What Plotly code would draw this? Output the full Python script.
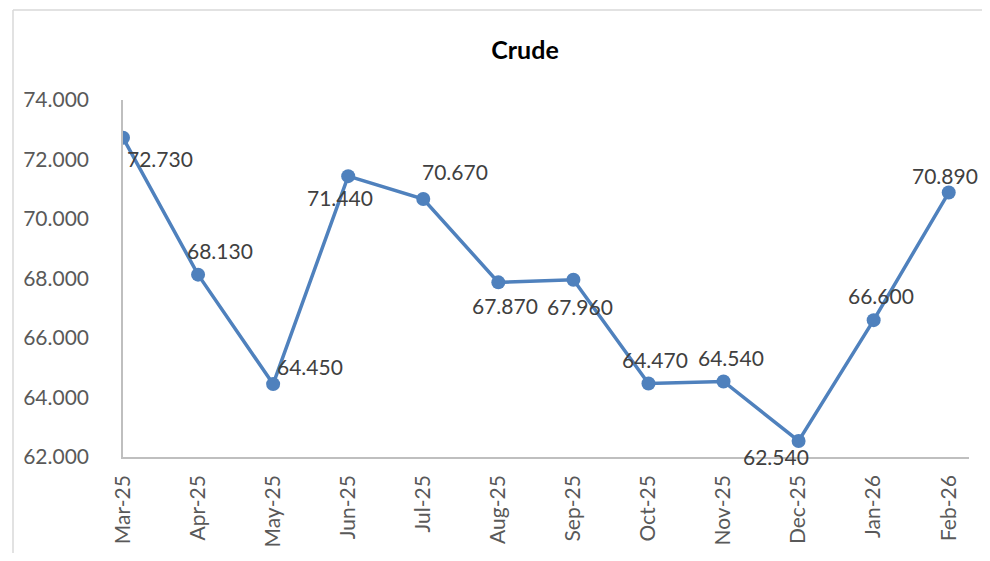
import plotly.graph_objects as go

months = ["Mar-25", "Apr-25", "May-25", "Jun-25", "Jul-25", "Aug-25",
          "Sep-25", "Oct-25", "Nov-25", "Dec-25", "Jan-26", "Feb-26"]
crude = [72.73, 68.13, 64.45, 71.44, 70.67, 67.87, 67.96, 64.47, 64.54, 62.54, 66.60, 70.89]
y_ticks = [62, 64, 66, 68, 70, 72, 74]

# label offsets (px) relative to each point
label_dx = [37, 22, 37, -8, 32, 7, 7, 7, 7, -23, 7, -4]
label_dy = [-21, 24, 18, -21, 28, -23, -27, 24, 24, -16, 25, 17]

# the page body adds an 8px margin on every side; keep the figure inside the window
OFF = 8
W, H = 990 - 2 * OFF, 561 - 2 * OFF
L, T, R, B = 123 - OFF, 100 - OFF, 969 - OFF, 457 - OFF

fig = go.Figure()
x_idx = list(range(len(months)))
fig.add_trace(go.Scatter(
    x=x_idx, y=crude, mode="lines+markers",
    line=dict(color="#4F81BD", width=3.5),
    marker=dict(color="#4F81BD", size=14),
    hoverinfo="skip", showlegend=False,
))

for i, v in enumerate(crude):
    fig.add_annotation(x=x_idx[i], y=v, text=f"{v:.3f}", showarrow=False,
                       xshift=label_dx[i], yshift=label_dy[i],
                       font=dict(family="Lato", size=21, color="#404040"))

# chart-area border: only top and left edges are visible in the frame
pw, ph = R - L, B - T
bx = (13 - OFF - L) / pw
by = (B - (10 - OFF)) / ph
border = dict(color="#D9D9D9", width=1.5)
fig.add_shape(type="line", xref="paper", yref="paper",
              x0=bx, x1=1.5, y0=by, y1=by, line=border, layer="below")
fig.add_shape(type="line", xref="paper", yref="paper",
              x0=bx, x1=bx, y0=-1, y1=by, line=border, layer="below")

fig.update_layout(
    width=W, height=H,
    margin=dict(l=L, r=W - R, t=T, b=H - B, autoexpand=False),
    paper_bgcolor="white", plot_bgcolor="white",
    title=dict(text="<b>Crude</b>", x=(525 - OFF) / W, xanchor="center",
               y=1 - (50 - OFF) / H, yanchor="middle",
               font=dict(family="Lato", size=25, color="black")),
    xaxis=dict(
        tickmode="array", tickvals=x_idx, ticktext=months,
        range=[0, 11.27], tickangle=-90,
        showgrid=False, zeroline=False,
        showline=True, linecolor="#BFBFBF", linewidth=1.5,
        ticks="", ticklabelstandoff=8,
        tickfont=dict(family="Lato", size=21, color="#595959"),
    ),
    yaxis=dict(
        range=[62, 74], tickmode="array", tickvals=y_ticks,
        ticktext=[f"{t:.3f}" for t in y_ticks],
        showgrid=False, zeroline=False,
        showline=True, linecolor="#BFBFBF", linewidth=1.5,
        ticks="", ticklabelstandoff=28,
        tickfont=dict(family="Lato", size=21, color="#595959"),
    ),
)

fig.write_html("out.html")
